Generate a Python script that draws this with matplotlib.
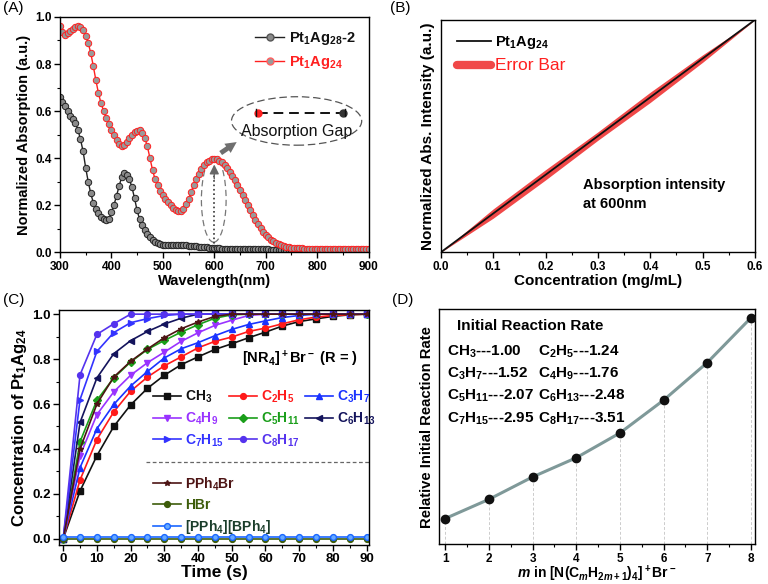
import matplotlib
matplotlib.use("Agg")
import matplotlib.pyplot as plt
from matplotlib.patches import Ellipse
from matplotlib.lines import Line2D
from matplotlib.ticker import MultipleLocator, FormatStrFormatter

plt.rcParams['font.family'] = ['Liberation Sans', 'DejaVu Sans']
plt.rcParams['font.weight'] = 'bold'
plt.rcParams['axes.labelweight'] = 'bold'
plt.rcParams['mathtext.fontset'] = 'custom'
plt.rcParams['mathtext.rm'] = 'Liberation Sans:bold'
plt.rcParams['mathtext.bf'] = 'Liberation Sans:bold'
plt.rcParams['mathtext.it'] = 'Liberation Sans:italic:bold'
plt.rcParams['xtick.direction'] = 'out'
plt.rcParams['ytick.direction'] = 'out'

# ---------------- Panel A data ----------------
wl = list(range(300, 905, 5))
abs_ag24 = [0.96, 0.935, 0.925, 0.93, 0.94, 0.95, 0.957, 0.96, 0.957, 0.945,
            0.92, 0.89, 0.846, 0.79, 0.73, 0.675, 0.633, 0.60, 0.57, 0.545,
            0.52, 0.497, 0.477, 0.462, 0.452, 0.455, 0.47, 0.485, 0.50, 0.51,
            0.516, 0.518, 0.508, 0.485, 0.45, 0.40, 0.35, 0.31, 0.285, 0.262,
            0.242, 0.227, 0.213, 0.20, 0.19, 0.18, 0.175, 0.174, 0.185, 0.205,
            0.228, 0.257, 0.285, 0.31, 0.334, 0.353, 0.37, 0.382, 0.39, 0.395,
            0.397, 0.395, 0.39, 0.382, 0.372, 0.358, 0.343, 0.326, 0.307, 0.286,
            0.265, 0.243, 0.222, 0.20, 0.18, 0.158, 0.138, 0.12, 0.103, 0.088,
            0.074, 0.063, 0.054, 0.046, 0.040, 0.035, 0.030, 0.027, 0.024, 0.022,
            0.020, 0.019, 0.018, 0.017, 0.017, 0.016, 0.016, 0.015, 0.015, 0.015,
            0.015, 0.014, 0.014, 0.014, 0.014, 0.014, 0.013, 0.013, 0.013, 0.013,
            0.013, 0.013, 0.013, 0.013, 0.013, 0.013, 0.012, 0.012, 0.012, 0.012,
            0.012]
abs_ag28 = [0.66, 0.64, 0.62, 0.60, 0.58, 0.565, 0.55, 0.52, 0.48, 0.43,
            0.36, 0.30, 0.25, 0.21, 0.185, 0.165, 0.15, 0.14, 0.138, 0.14,
            0.17, 0.20, 0.24, 0.28, 0.32, 0.337, 0.33, 0.31, 0.277, 0.23,
            0.178, 0.14, 0.118, 0.095, 0.078, 0.064, 0.053, 0.045, 0.038, 0.034,
            0.031, 0.030, 0.030, 0.030, 0.030, 0.030, 0.030, 0.030, 0.029, 0.029,
            0.028, 0.027, 0.026, 0.025, 0.024, 0.023, 0.022, 0.021, 0.020, 0.019,
            0.018, 0.017, 0.017, 0.016, 0.016, 0.015, 0.015, 0.014, 0.014, 0.014,
            0.013, 0.013, 0.013, 0.013, 0.012, 0.012, 0.012, 0.012, 0.012, 0.012,
            0.012, 0.012, 0.011, 0.011, 0.011, 0.011, 0.011, 0.011, 0.011, 0.011,
            0.011, 0.011, 0.011, 0.011, 0.011, 0.011, 0.011, 0.011, 0.011, 0.011,
            0.011, 0.011, 0.011, 0.011, 0.011, 0.011, 0.011, 0.011, 0.011, 0.011,
            0.011, 0.011, 0.011, 0.011, 0.011, 0.011, 0.011, 0.011, 0.011, 0.011,
            0.011]

# ---------------- Panel B data ----------------
conc = [0.0, 0.1, 0.2, 0.3, 0.4, 0.5, 0.6]
intensity = [0.0, 0.1667, 0.3333, 0.5, 0.6667, 0.8333, 1.0]
err = [0.0, 0.02, 0.022, 0.018, 0.022, 0.016, 0.0]

# ---------------- Panel C data ----------------
t = [0, 5, 10, 15, 20, 25, 30, 35, 40, 45, 50, 55, 60, 65, 70, 75, 80, 85, 90]
c_ch3 = [0, 0.213, 0.37, 0.50, 0.596, 0.67, 0.728, 0.775, 0.81, 0.843, 0.868, 0.895,
         0.92, 0.947, 0.967, 0.979, 0.99, 0.997, 1.0]
c_c2 = [0, 0.262, 0.442, 0.565, 0.657, 0.72, 0.77, 0.81, 0.85, 0.879, 0.898, 0.923,
        0.938, 0.957, 0.975, 0.987, 0.994, 0.998, 1.0]
c_c3 = [0, 0.317, 0.49, 0.598, 0.68, 0.745, 0.805, 0.846, 0.873, 0.904, 0.932, 0.954,
        0.97, 0.985, 0.994, 1.0, 1.0, 1.0, 1.0]
c_c4 = [0, 0.37, 0.553, 0.654, 0.728, 0.784, 0.831, 0.879, 0.917, 0.95, 0.973, 0.994,
        1.0, 1.0, 1.0, 1.0, 1.0, 1.0, 1.0]
c_c5 = [0, 0.432, 0.617, 0.716, 0.787, 0.843, 0.883, 0.92, 0.953, 0.982, 0.997, 1.0,
        1.0, 1.0, 1.0, 1.0, 1.0, 1.0, 1.0]
c_c6 = [0, 0.518, 0.716, 0.824, 0.882, 0.923, 0.956, 0.982, 1.0, 1.0, 1.0, 1.0,
        1.0, 1.0, 1.0, 1.0, 1.0, 1.0, 1.0]
c_c7 = [0, 0.62, 0.834, 0.918, 0.962, 0.98, 0.994, 1.0, 1.0, 1.0, 1.0, 1.0,
        1.0, 1.0, 1.0, 1.0, 1.0, 1.0, 1.0]
c_c8 = [0, 0.73, 0.91, 0.957, 1.0, 1.0, 1.0, 1.0, 1.0, 1.0, 1.0, 1.0,
        1.0, 1.0, 1.0, 1.0, 1.0, 1.0, 1.0]
c_pph4br = [0, 0.40, 0.60, 0.72, 0.79, 0.845, 0.895, 0.935, 0.965, 0.99, 1.0, 1.0,
            1.0, 1.0, 1.0, 1.0, 1.0, 1.0, 1.0]
c_hbr = [0.0, 0.0, 0.0, 0.0, 0.0, 0.0, 0.0, 0.0, 0.0, 0.0, 0.0, 0.0, 0.0, 0.0,
         0.0, 0.0, 0.0, 0.0, 0.0]
c_bph4 = [0.006, 0.006, 0.006, 0.006, 0.006, 0.006, 0.006, 0.006, 0.006, 0.006,
          0.006, 0.006, 0.006, 0.006, 0.006, 0.006, 0.006, 0.006, 0.006]

# ---------------- Panel D data ----------------
m_vals = [1, 2, 3, 4, 5, 6, 7, 8]
rel_rate = [1.00, 1.24, 1.52, 1.76, 2.07, 2.48, 2.95, 3.51]
rate_labels = ['CH$_3$---1.00', 'C$_2$H$_5$---1.24', 'C$_3$H$_7$---1.52',
               'C$_4$H$_9$---1.76', 'C$_5$H$_{11}$---2.07', 'C$_6$H$_{13}$---2.48',
               'C$_7$H$_{15}$---2.95', 'C$_8$H$_{17}$---3.51']

fig = plt.figure(figsize=(7.68, 5.84), dpi=100)
axA = fig.add_axes([0.078, 0.568, 0.402, 0.403])
axB = fig.add_axes([0.574, 0.568, 0.409, 0.398])
axC = fig.add_axes([0.077, 0.067, 0.403, 0.402])
axD = fig.add_axes([0.572, 0.068, 0.411, 0.403])

for ax in (axA, axB, axC, axD):
    for s in ax.spines.values():
        s.set_linewidth(1.0)
    ax.tick_params(labelsize=8.5, width=1.0, length=4, pad=2)
    ax.tick_params(which='minor', width=0.8, length=2.5)
axC.tick_params(labelsize=9.5)

# ---- A ----
axA.plot(wl, abs_ag28, '-', color='#222222', lw=1, marker='o', ms=4.6,
         mfc='#8a8a8a', mec='#222222', mew=0.7)
axA.plot(wl, abs_ag24, '-', color='#ff2020', lw=1, marker='o', ms=4.6,
         mfc='#9a9a9a', mec='#ff2020', mew=0.7)
axA.set_xlim(300, 900)
axA.set_ylim(0, 1.0)
axA.xaxis.set_major_locator(MultipleLocator(100))
axA.xaxis.set_minor_locator(MultipleLocator(50))
axA.yaxis.set_major_locator(MultipleLocator(0.2))
axA.yaxis.set_minor_locator(MultipleLocator(0.1))
axA.yaxis.set_major_formatter(FormatStrFormatter('%.1f'))
axA.set_xlabel('Wavelength(nm)', fontsize=10.5, labelpad=1)
axA.set_ylabel('Normalized Absorption (a.u.)', fontsize=10.5, labelpad=3)
hA = [Line2D([], [], color='#222222', lw=1, marker='o', ms=5, mfc='#8a8a8a', mec='#555555'),
      Line2D([], [], color='#ff2020', lw=1, marker='o', ms=5, mfc='#9a9a9a', mec='#ff6060')]
legA = axA.legend(hA, ['Pt$_1$Ag$_{28}$-2', 'Pt$_1$Ag$_{24}$'], loc='upper right',
                  bbox_to_anchor=(1.0, 1.0), frameon=False,
                  fontsize=10.5, handlelength=2.0, handletextpad=0.3, labelspacing=0.45,
                  numpoints=1)
for txt, col in zip(legA.get_texts(), ['#111111', '#ff2020']):
    txt.set_color(col)
axA.add_patch(Ellipse((760, 0.558), 253, 0.206, fill=False, ec='#555555',
                      ls=(0, (6, 3)), lw=0.9))
axA.plot([685, 850], [0.593, 0.593], color='#111111', ls=(0, (5, 3)), lw=1.4)
axA.plot([685], [0.593], 'o', color='#ff2020', ms=5)
axA.plot([850], [0.593], 'o', color='#333333', ms=5)
axA.plot([682, 682], [0.578, 0.608], color='#111111', lw=1)
axA.plot([854, 854], [0.578, 0.608], color='#111111', lw=1)
axA.text(760, 0.515, 'Absorption Gap', ha='center', va='center', fontsize=11.5,
         fontweight='normal', color='#111111')
axA.add_patch(Ellipse((599, 0.224), 48, 0.362, fill=False, ec='#777777',
                      ls=(0, (5, 3)), lw=0.9))
axA.plot([600, 600], [0.02, 0.34], color='#333333', ls=':', lw=1.2)
axA.annotate('', xy=(600, 0.385), xytext=(600, 0.30),
             arrowprops=dict(arrowstyle='-|>', color='#666666', lw=1, mutation_scale=14))
axA.annotate('', xy=(648, 0.475), xytext=(608, 0.415),
             arrowprops=dict(arrowstyle='simple,head_length=0.8,head_width=0.8,tail_width=0.35',
                             color='#6f6f6f', lw=0))

# ---- B ----
lo = [i - e for i, e in zip(intensity, err)]
hi = [i + e for i, e in zip(intensity, err)]
axB.fill_between(conc, lo, hi, color='#f04848', lw=0)
axB.plot(conc, intensity, color='#111111', lw=1.3)
axB.set_xlim(0, 0.6)
axB.set_ylim(0, 1.0)
axB.set_yticks([])
axB.xaxis.set_major_locator(MultipleLocator(0.1))
axB.xaxis.set_minor_locator(MultipleLocator(0.05))
axB.xaxis.set_major_formatter(FormatStrFormatter('%.1f'))
axB.set_xlabel('Concentration (mg/mL)', fontsize=11, labelpad=1)
axB.set_ylabel('Normalized Abs. Intensity (a.u.)', fontsize=11, labelpad=4)
hB = [Line2D([], [], color='#111111', lw=1.3),
      Line2D([], [], color='#f04848', lw=6, solid_capstyle='round')]
legB = axB.legend(hB, ['Pt$_1$Ag$_{24}$', 'Error Bar'], loc='upper left',
                  bbox_to_anchor=(0.01, 0.995), frameon=False, fontsize=10.5,
                  handlelength=2.3, handletextpad=0.3, labelspacing=0.5)
legB.get_texts()[1].set_color('#ff2020')
legB.get_texts()[1].set_fontweight('normal')
legB.get_texts()[1].set_fontsize(12.5)
axB.text(0.271, 0.288, 'Absorption intensity', fontsize=10.5, va='center')
axB.text(0.271, 0.206, 'at 600nm', fontsize=10.5, va='center')

# ---- C ----
series = [
    (c_ch3, 'CH$_3$', '#111111', 's'),
    (c_c2, 'C$_2$H$_5$', '#ff1a1a', 'o'),
    (c_c3, 'C$_3$H$_7$', '#1a33ff', '^'),
    (c_c4, 'C$_4$H$_9$', '#9933ff', 'v'),
    (c_c5, 'C$_5$H$_{11}$', '#1a9e1a', 'D'),
    (c_c6, 'C$_6$H$_{13}$', '#14145c', '<'),
    (c_c7, 'C$_7$H$_{15}$', '#3333ff', '>'),
    (c_c8, 'C$_8$H$_{17}$', '#5533ee', 'o'),
]
extra = [
    (c_pph4br, 'PPh$_4$Br', '#4d1414', '*', '#4d1414'),
    (c_hbr, 'HBr', '#3d5c0a', 'o', '#3d5c0a'),
    (c_bph4, '[PPh$_4$][BPh$_4$]', '#1a66ff', 'o', '#1a3d2a'),
]
h1 = []
for ys, lab, col, mk in series:
    ms = 3.6 if mk == 'D' else 4.2
    ln, = axC.plot(t, ys, '-', color=col, lw=1.2, marker=mk, ms=ms, label=lab)
    h1.append(ln)
h2 = []
for ys, lab, col, mk, tc in extra:
    ln, = axC.plot(t, ys, '-', color=col, lw=1.2, marker=mk, ms=4.2, label=lab,
                   mfc=col if lab != '[PPh$_4$][BPh$_4$]' else '#66aaff')
    h2.append(ln)
axC.set_xlim(-1.2, 90.6)
axC.set_ylim(-0.027, 1.018)
axC.xaxis.set_major_locator(MultipleLocator(10))
axC.xaxis.set_minor_locator(MultipleLocator(5))
axC.yaxis.set_major_locator(MultipleLocator(0.2))
axC.yaxis.set_minor_locator(MultipleLocator(0.1))
axC.yaxis.set_major_formatter(FormatStrFormatter('%.1f'))
axC.set_xlabel('Time (s)', fontsize=12.5, labelpad=0)
axC.set_ylabel('Concentration of Pt$_1$Ag$_{24}$', fontsize=12, labelpad=2)
axC.text(53, 0.80, '[NR$_4$]$^+$Br$^-$ (R = )', fontsize=10.5, va='center')
order = [0, 3, 6, 1, 4, 7, 2, 5]
leg1 = axC.legend(handles=[h1[i] for i in order], loc='upper left',
                  bbox_to_anchor=(0.285, 0.69),
                  frameon=False, ncol=3, fontsize=10, handlelength=2.0,
                  handletextpad=0.3, columnspacing=0.4, labelspacing=0.4,
                  borderaxespad=0, numpoints=1)
for txt, i in zip(leg1.get_texts(), order):
    txt.set_color(series[i][2])
axC.add_artist(leg1)
leg2 = axC.legend(handles=h2, loc='upper left', bbox_to_anchor=(0.285, 0.32),
                  frameon=False, fontsize=10, handlelength=2.0,
                  handletextpad=0.3, labelspacing=0.4, borderaxespad=0, numpoints=1)
for txt, (_, _, _, _, tc) in zip(leg2.get_texts(), extra):
    txt.set_color(tc)
axC.plot([0.28, 1.0], [0.352, 0.352], transform=axC.transAxes, color='#666666',
         ls=(0, (3, 2)), lw=0.9)

# ---- D ----
for m, r in zip(m_vals, rel_rate):
    axD.plot([m, m], [0.678, r], color='#cccccc', ls=(0, (3, 2)), lw=0.7, zorder=1)
axD.plot(m_vals, rel_rate, '-', color='#7f9999', lw=2.2, zorder=2)
axD.plot(m_vals, rel_rate, 'o', color='#111111', ms=6, zorder=3)
axD.set_xlim(0.863, 8.09)
axD.set_ylim(0.678, 3.62)
axD.set_yticks([])
axD.xaxis.set_major_locator(MultipleLocator(1))
axD.xaxis.set_minor_locator(MultipleLocator(0.5))
axD.set_xlabel(r'$\mathit{m}$ in [N(C$_{\mathit{m}}$H$_{2\mathit{m}+1}$)$_4$]$^+$Br$^-$',
               fontsize=10, labelpad=-1)
axD.set_ylabel('Relative Initial Reaction Rate', fontsize=10.7, labelpad=4)
axD.text(1.27, 3.41, 'Initial Reaction Rate', fontsize=11, va='center')
rows_y = [3.08, 2.81, 2.53, 2.25]
for i, y in enumerate(rows_y):
    axD.text(1.05, y, rate_labels[2 * i], fontsize=11, va='center')
    axD.text(3.13, y, rate_labels[2 * i + 1], fontsize=11, va='center')

for lab, x, y in [('(A)', 0.004, 0.998), ('(B)', 0.508, 0.998),
                  ('(C)', 0.004, 0.498), ('(D)', 0.51, 0.498)]:
    fig.text(x, y, lab, fontsize=11, fontweight='normal', va='top', ha='left')

fig.savefig('out.png', dpi=100)
